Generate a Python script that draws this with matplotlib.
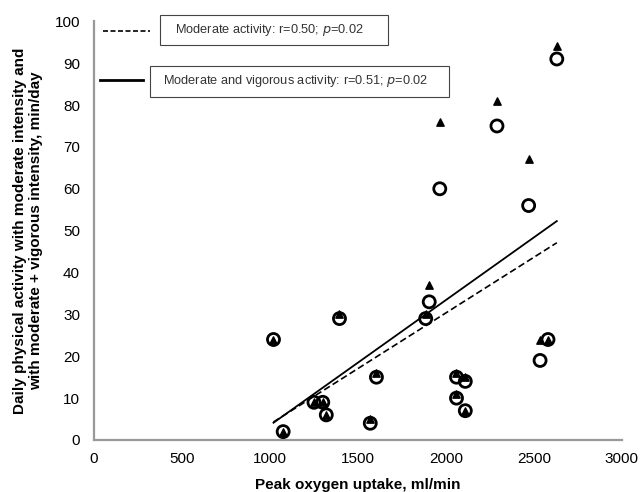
import numpy as np
import matplotlib.pyplot as plt
from matplotlib.lines import Line2D
from matplotlib.patches import Rectangle

plt.rcParams['font.family'] = ['Liberation Sans', 'DejaVu Sans']

# peak oxygen uptake (ml/min) per subject
vo2 = [1020, 1075, 1250, 1300, 1320, 1395, 1570, 1605, 1885, 1905,
       1965, 2060, 2060, 2110, 2110, 2290, 2470, 2535, 2580, 2630]
# minutes/day of moderate activity (circles)
moderate = [24, 2, 9, 9, 6, 29, 4, 15, 29, 33,
            60, 15, 10, 14, 7, 75, 56, 19, 24, 91]
# minutes/day of moderate + vigorous activity (triangles)
mod_vig = [24, 2, 9, 9, 6, 30, 5, 16, 30, 37,
           76, 16, 11, 15, 7, 81, 67, 24, 24, 94]

x = np.array(vo2)
fig = plt.figure(figsize=(6.43, 4.92), dpi=100)
ax = fig.add_axes([0.1462, 0.1057, 0.821, 0.851])

ax.scatter(x, mod_vig, marker='^', s=28, color='black', zorder=3)
ax.scatter(x, moderate, marker='o', s=75, facecolors='none',
           edgecolors='black', linewidths=2, zorder=4)

xs = np.array([x.min(), x.max()])
b1 = np.polyfit(x, moderate, 1)
b2 = np.polyfit(x, mod_vig, 1)
ax.plot(xs, np.polyval(b1, xs), '--', color='black', lw=1.2, dashes=(4, 2))
ax.plot(xs, np.polyval(b2, xs), '-', color='black', lw=1.3)

ax.set_xlim(0, 3000)
ax.set_ylim(0, 100)
ax.set_xticks(range(0, 3001, 500))
ax.set_yticks(range(0, 101, 10))
ax.tick_params(length=0, labelsize=11)
ax.tick_params(axis='x', pad=9)
ax.tick_params(axis='y', pad=10)
for s in ['top', 'right']:
    ax.spines[s].set_visible(False)
for s in ['left', 'bottom']:
    ax.spines[s].set_color('#999999')
    ax.spines[s].set_linewidth(1.6)

ax.set_xlabel('Peak oxygen uptake, ml/min', fontsize=11, fontweight='bold', labelpad=8)
ax.set_ylabel('Daily physical activity with moderate intensity and\n'
              'with moderate + vigorous intensity, min/day',
              fontsize=11, fontweight='bold', labelpad=8)

# hand-made legend: line sample outside, text in a box
for x0, y0, w, h in [(0.125, 0.943, 0.432, 0.071), (0.106, 0.819, 0.566, 0.074)]:
    ax.add_patch(Rectangle((x0, y0), w, h, transform=ax.transAxes, facecolor='white',
                           edgecolor='#444444', lw=0.8, clip_on=False, zorder=5))
ax.text(0.153, 0.979, r'Moderate activity: r=0.50; $\it{p}$=0.02', transform=ax.transAxes,
        fontsize=9.2, va='center', ha='left', color='#333333', zorder=6)
ax.text(0.131, 0.857, r'Moderate and vigorous activity: r=0.51; $\it{p}$=0.02',
        transform=ax.transAxes, fontsize=9.2, va='center', ha='left', color='#333333', zorder=6)
ax.add_line(Line2D([0.017, 0.106], [0.976, 0.976], transform=ax.transAxes,
                   color='black', lw=1.2, ls='--', dashes=(3, 1.5), clip_on=False))
ax.add_line(Line2D([0.011, 0.093], [0.859, 0.859], transform=ax.transAxes,
                   color='black', lw=2))

fig.savefig('out.png', dpi=100)
